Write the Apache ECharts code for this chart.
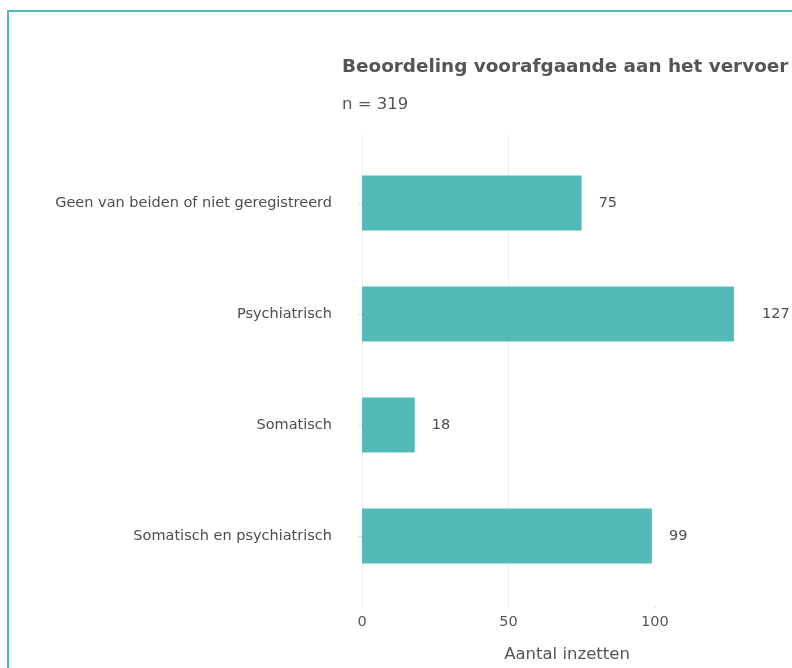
<!DOCTYPE html>
<html><head><meta charset="utf-8">
<script src="https://cdn.jsdelivr.net/npm/echarts@6/dist/echarts.min.js"></script>
<style>
html,body{margin:0;padding:0;overflow:hidden;background:#fff;}
#frame{position:absolute;left:7px;top:10px;width:900px;height:800px;border:2px solid #52bbb8;box-sizing:border-box;}
#chart{position:absolute;left:0;top:0;width:792px;height:668px;}
</style></head>
<body>
<div id="frame"></div>
<div id="chart"></div>
<script>
const categories = ["Geen van beiden of niet geregistreerd", "Psychiatrisch", "Somatisch", "Somatisch en psychiatrisch"];
const values = [75, 127, 18, 99];
const xTicks = [0, 50, 100];
const titleText = "Beoordeling voorafgaande aan het vervoer";
const subtitleText = "n = 319";
const xName = "Aantal inzetten";

const font = "DejaVu Sans";
const chart = echarts.init(document.getElementById('chart'), null, {renderer: 'canvas'});
const xMax = 140;
chart.setOption({
  animation: false,
  title: [
    {text: titleText, left: 342, top: 58, padding: 0, textStyle: {fontFamily: font, fontSize: 18.4, fontWeight: 'bold', color: '#555555'}},
    {text: subtitleText, left: 342, top: 96, padding: 0, textStyle: {fontFamily: font, fontSize: 16.5, fontWeight: 'normal', color: '#555555'}}
  ],
  grid: [
    {left: 362, width: 410, top: 147.5, height: 444},
    {left: 362, width: 410, top: 135, height: 471}
  ],
  xAxis: [
    {gridIndex: 0, type: 'value', min: 0, max: xMax, interval: 50, show: false, splitLine: {show: false}},
    {gridIndex: 1, type: 'value', min: 0, max: xMax, interval: 50,
     axisLine: {show: false},
     axisTick: {show: true, length: 3, customValues: xTicks, lineStyle: {color: '#e5e5e5'}},
     axisLabel: {fontFamily: font, fontSize: 14.5, color: '#555555', margin: 9, customValues: xTicks},
     splitLine: {show: true, showMaxLine: false, lineStyle: {color: '#efefef', width: 1}},
     name: xName, nameLocation: 'middle', nameGap: 40,
     nameTextStyle: {fontFamily: font, fontSize: 16.5, color: '#555555'}}
  ],
  yAxis: [
    {gridIndex: 0, type: 'category', data: categories, inverse: true, offset: 21,
     axisLine: {show: false},
     axisTick: {show: true, length: 4, alignWithLabel: true, lineStyle: {color: '#dddddd'}},
     axisLabel: {fontFamily: font, fontSize: 14.5, color: '#4d4d4d', margin: 9},
     splitLine: {show: false}},
    {gridIndex: 1, type: 'value', min: 0, max: 1, show: false, splitLine: {show: false}}
  ],
  series: [
    {type: 'bar', xAxisIndex: 0, yAxisIndex: 0, barWidth: 55,
     data: values.map((v, i) => ({value: v, label: {distance: v === 127 ? 28 : 17}})),
     itemStyle: {color: '#52bbb8'},
     label: {show: true, position: 'right', fontFamily: font, fontSize: 14.5, color: '#4d4d4d'}},
    {type: 'scatter', xAxisIndex: 1, yAxisIndex: 1, data: [], silent: true}
  ]
});
</script>
</body></html>
